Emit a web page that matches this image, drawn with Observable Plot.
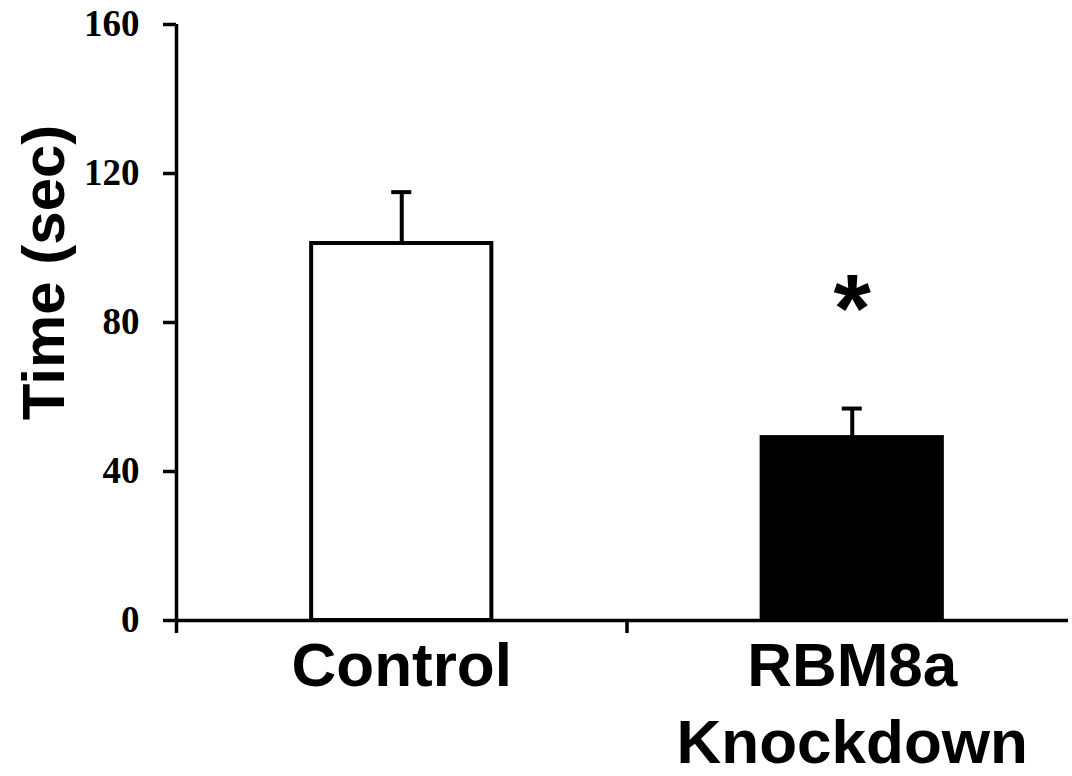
<!DOCTYPE html>
<html>
<head>
<meta charset="utf-8">
<script src="https://cdn.jsdelivr.net/npm/d3@7"></script>
<script src="https://cdn.jsdelivr.net/npm/@observablehq/plot@0.6"></script>
<style>
  html, body { margin: 0; padding: 0; background: #fff; }
  #chart svg { display: block; background: #fff; }
</style>
</head>
<body>
<div id="chart"></div>
<script>
const categories = ["Control", "RBM8a\nKnockdown"];
const means = [101.2, 49.1];
const sems = [13.8, 7.8];
const barFills = ["white", "black"];
const sigLabels = ["", "*"];
const yTicks = [0, 40, 80, 120, 160];
const yTitle = "Time (sec)";

const data = categories.map((c, i) => ({
  cat: c, idx: i, mean: means[i], sem: sems[i], fill: barFills[i], sig: sigLabels[i]
}));

const sans = "'Liberation Sans', Arial, sans-serif";
const serif = "'Liberation Serif', 'Times New Roman', serif";

const chart = Plot.plot({
  width: 1072,
  height: 776,
  marginLeft: 176,
  marginRight: 4,
  marginTop: 24,
  marginBottom: 156,
  x: {domain: [0, 2], range: [176, 1077]},
  y: {domain: [0, 160]},
  color: {type: "identity"},
  marks: [
    Plot.rectY(data, {
      x1: d => d.idx + 0.3, x2: d => d.idx + 0.7, y1: 0, y2: "mean",
      fill: "fill", stroke: "black", strokeWidth: 4
    }),
    Plot.ruleX(data, {
      x: d => d.idx + 0.5, y1: "mean", y2: d => d.mean + d.sem,
      stroke: "black", strokeWidth: 4
    }),
    Plot.ruleY(data, {
      y: d => d.mean + d.sem, x1: d => d.idx + 0.5, x2: d => d.idx + 0.5,
      insetLeft: -10, insetRight: -10, stroke: "black", strokeWidth: 4
    }),
    Plot.text(data, {
      x: d => d.idx + 0.5, y: d => d.mean + d.sem, text: "sig",
      dy: -98, fontSize: 96, fontWeight: "bold", fontFamily: sans, fill: "black"
    }),
    Plot.ruleY([0], {stroke: "black", strokeWidth: 3.5}),
    Plot.ruleX([0], {y1: 0, y2: 160, stroke: "black", strokeWidth: 3.5}),
    Plot.axisY({
      ticks: yTicks, tickSize: 13, tickPadding: 24, label: null,
      fontSize: 37, fontFamily: serif, fontWeight: "bold",
      stroke: "black", strokeWidth: 3.5, color: "black"
    }),
    Plot.axisX({
      ticks: [0, 1, 2], tickSize: 13, tickFormat: () => "", label: null,
      stroke: "black", strokeWidth: 3.5
    }),
    Plot.text(data, {
      x: d => d.idx + 0.5, y: 0, text: "cat", lineAnchor: "top", dy: 10,
      fontSize: 62, lineHeight: 1.25, fontWeight: "bold", fontFamily: sans, fill: "black"
    }),
    Plot.text([yTitle], {
      frameAnchor: "left", rotate: -90, textAnchor: "middle", lineAnchor: "middle",
      dx: -132, dy: -50, fontSize: 60, fontWeight: "bold", fontFamily: sans, fill: "black"
    })
  ]
});
document.getElementById("chart").appendChild(chart);
</script>
</body>
</html>
